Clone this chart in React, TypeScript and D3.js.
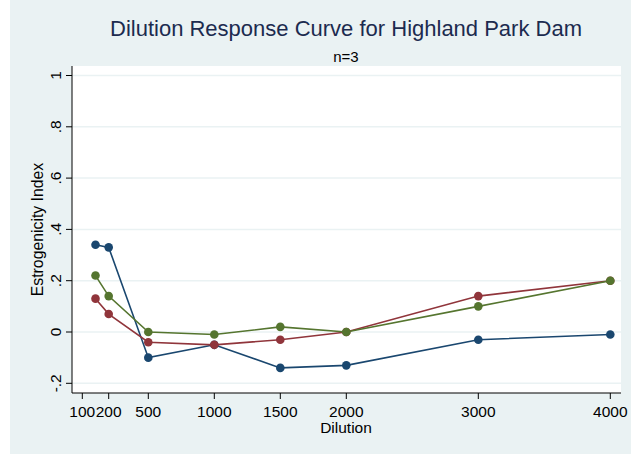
import React, { useEffect, useRef } from 'react';
import * as d3 from 'd3';

const dilutions = [100, 200, 500, 1000, 1500, 2000, 3000, 4000];
const seriesBlue = [0.34, 0.33, -0.1, -0.05, -0.14, -0.13, -0.03, -0.01];
const seriesRed = [0.13, 0.07, -0.04, -0.05, -0.03, 0.0, 0.14, 0.2];
const seriesGreen = [0.22, 0.14, 0.0, -0.01, 0.02, 0.0, 0.1, 0.2];

const xTickValues = [0, 200, 500, 1000, 1500, 2000, 3000, 4000];
const xTickLabels = ['100', '200', '500', '1000', '1500', '2000', '3000', '4000'];
const yTickValues = [-0.2, 0, 0.2, 0.4, 0.6, 0.8, 1];
const yTickLabels = ['-.2', '0', '.2', '.4', '.6', '.8', '1'];

const series = [
  { name: 'blue', values: seriesBlue, color: '#1a476f' },
  { name: 'red', values: seriesRed, color: '#90353b' },
  { name: 'green', values: seriesGreen, color: '#55752f' },
];

const W = 631;
const H = 455;
const FONT = '"Liberation Sans", Arial, sans-serif';

export default function App() {
  const ref = useRef<SVGSVGElement>(null);

  useEffect(() => {
    if (!ref.current) return;
    const svg = d3.select(ref.current);
    svg.selectAll('*').remove();

    const plot = { left: 72, right: 621, top: 66, bottom: 393 };

    const x = d3.scaleLinear().domain([0, 4000]).range([82.3, 610.3]);
    const y = d3.scaleLinear().domain([-0.2, 1]).range([383.3, 75.5]);

    // Graph region
    svg.append('rect').attr('width', W).attr('height', H).attr('fill', '#ffffff');
    svg.append('rect')
      .attr('x', 10).attr('y', 0)
      .attr('width', W - 10).attr('height', H - 1)
      .attr('fill', '#eaf2f3');

    // Plot region
    svg.append('rect')
      .attr('x', plot.left).attr('y', plot.top)
      .attr('width', plot.right - plot.left)
      .attr('height', plot.bottom - plot.top)
      .attr('fill', '#ffffff');

    // Gridlines
    svg.selectAll('.grid')
      .data(yTickValues)
      .join('line')
      .attr('class', 'grid')
      .attr('x1', plot.left).attr('x2', plot.right)
      .attr('y1', (d) => y(d)).attr('y2', (d) => y(d))
      .attr('stroke', '#eaf2f3')
      .attr('stroke-width', 1.5);

    // Axes
    svg.append('line')
      .attr('x1', plot.left).attr('x2', plot.left)
      .attr('y1', plot.top).attr('y2', plot.bottom)
      .attr('stroke', '#000').attr('stroke-width', 1);
    svg.append('line')
      .attr('x1', plot.left).attr('x2', plot.right)
      .attr('y1', plot.bottom).attr('y2', plot.bottom)
      .attr('stroke', '#000').attr('stroke-width', 1);

    // Y ticks + labels (rotated)
    svg.selectAll('.ytick')
      .data(yTickValues)
      .join('line')
      .attr('class', 'ytick')
      .attr('x1', plot.left - 6).attr('x2', plot.left)
      .attr('y1', (d) => y(d)).attr('y2', (d) => y(d))
      .attr('stroke', '#000');
    svg.selectAll('.ylab')
      .data(yTickValues)
      .join('text')
      .attr('class', 'ylab')
      .attr('transform', (d) => `translate(61,${y(d)}) rotate(-90)`)
      .attr('text-anchor', 'middle')
      .attr('font-family', FONT)
      .attr('font-size', 15.5)
      .attr('fill', '#000')
      .text((_, i) => yTickLabels[i]);

    // X ticks + labels
    svg.selectAll('.xtick')
      .data(xTickValues)
      .join('line')
      .attr('class', 'xtick')
      .attr('x1', (d) => x(d)).attr('x2', (d) => x(d))
      .attr('y1', plot.bottom).attr('y2', plot.bottom + 6)
      .attr('stroke', '#000');
    svg.selectAll('.xlab')
      .data(xTickValues)
      .join('text')
      .attr('class', 'xlab')
      .attr('x', (d) => x(d))
      .attr('y', 416.5)
      .attr('text-anchor', 'middle')
      .attr('font-family', FONT)
      .attr('font-size', 15.5)
      .attr('fill', '#000')
      .text((_, i) => xTickLabels[i]);

    // Axis titles
    svg.append('text')
      .attr('x', 346).attr('y', 432.5)
      .attr('text-anchor', 'middle')
      .attr('font-family', FONT)
      .attr('font-size', 15.5)
      .text('Dilution');
    svg.append('text')
      .attr('transform', `translate(43,${(plot.top + plot.bottom) / 2}) rotate(-90)`)
      .attr('text-anchor', 'middle')
      .attr('font-family', FONT)
      .attr('font-size', 15.8)
      .text('Estrogenicity Index');

    // Titles
    svg.append('text')
      .attr('x', 346).attr('y', 36)
      .attr('text-anchor', 'middle')
      .attr('font-family', FONT)
      .attr('font-size', 22)
      .attr('fill', '#1c2b4f')
      .text('Dilution Response Curve for Highland Park Dam');
    svg.append('text')
      .attr('x', 346).attr('y', 62)
      .attr('text-anchor', 'middle')
      .attr('font-family', FONT)
      .attr('font-size', 15)
      .attr('fill', '#000')
      .text('n=3');

    // Lines and markers
    const line = d3.line<number>()
      .x((_, i) => x(dilutions[i]))
      .y((d) => y(d));

    series.forEach((s) => {
      svg.append('path')
        .attr('d', line(s.values)!)
        .attr('fill', 'none')
        .attr('stroke', s.color)
        .attr('stroke-width', 1.6);
      svg.selectAll(`.pt-${s.name}`)
        .data(s.values)
        .join('circle')
        .attr('class', `pt-${s.name}`)
        .attr('cx', (_, i) => x(dilutions[i]))
        .attr('cy', (d) => y(d))
        .attr('r', 4.3)
        .attr('fill', s.color);
    });
  }, []);

  return (
    <svg
      ref={ref}
      width={W}
      height={H}
      style={{ position: 'absolute', left: 0, top: 0 }}
    />
  );
}
